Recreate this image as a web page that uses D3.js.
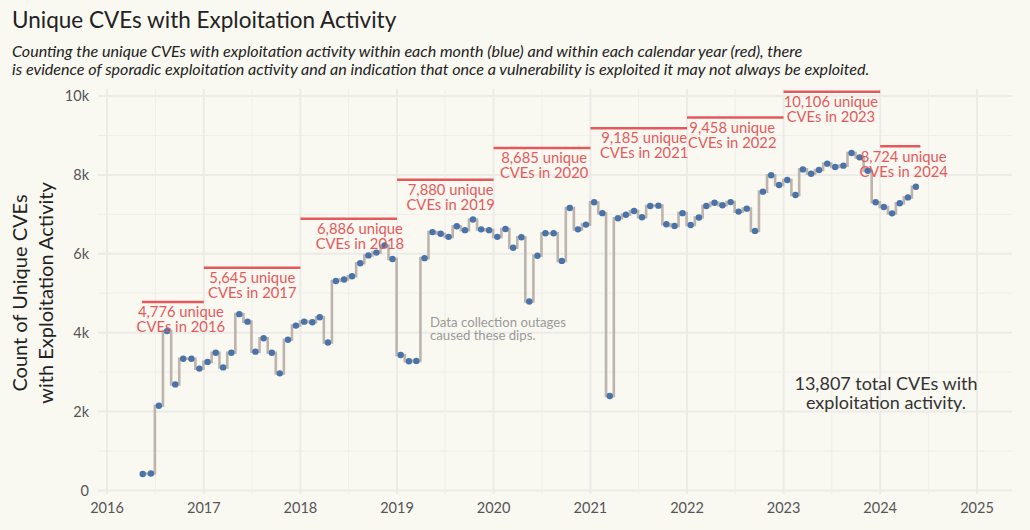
<!DOCTYPE html>
<html>
<head>
<meta charset="utf-8">
<script src="https://cdn.jsdelivr.net/npm/d3@7"></script>
<style>
  html, body { margin: 0; padding: 0; background: #f9f8f1; }
  svg { display: block; }
  text { font-family: Lato, "Open Sans", sans-serif; }
</style>
</head>
<body>
<svg id="chart" width="1030" height="530"></svg>
<script>
// ---------------- data ----------------
const startMonth = "2016-05";           // first monthly observation
const monthlyCounts = [
  420, 430, 2150, 4040, 2690, 3340, 3340, 3090,
  3260, 3490, 3120, 3490, 4470, 4280, 3520, 3860, 3490, 2970, 3820, 4180,
  4280, 4265, 4390, 3750, 5310, 5350, 5430, 5760, 5960, 6030, 6210, 5870,
  3435, 3275, 3285, 5890, 6550, 6510, 6430, 6700, 6600, 6870, 6620, 6600,
  6430, 6630, 6155, 6420, 4790, 5950, 6520, 6520, 5820, 7160, 6620, 6740,
  7305, 7030, 2395, 6900, 6990, 7085, 6925, 7210, 7220, 6750, 6705, 7030,
  6730, 6920, 7210, 7295, 7230, 7310, 7070, 7145, 6580, 7575, 7990, 7745,
  7870, 7490, 8140, 8030, 8125, 8285, 8200, 8235, 8555, 8445, 8105, 7305,
  7185, 7025, 7280, 7430, 7700
];
const years = [2016, 2017, 2018, 2019, 2020, 2021, 2022, 2023, 2024];
const yearlyCounts = [4776, 5645, 6886, 7880, 8685, 9185, 9458, 10106, 8724];
const yearSpanStart = ["2016-05-12", "2017-01-01", "2018-01-01", "2019-01-01", "2020-01-01", "2021-01-01", "2022-01-01", "2023-01-01", "2024-01-01"];
const yearSpanEnd   = ["2017-01-01", "2018-01-01", "2019-01-01", "2020-01-01", "2021-01-01", "2022-01-01", "2023-01-01", "2024-01-01", "2024-06-01"];
const yearLabelAt   = ["2016-10-06", "2017-07-03", "2018-08-14", "2019-07-23", "2020-07-10", "2021-07-23", "2022-06-21", "2023-06-29", "2024-03-30"];
const xTickYears = [2016, 2017, 2018, 2019, 2020, 2021, 2022, 2023, 2024, 2025];
const yTicks = [0, 2000, 4000, 6000, 8000, 10000];
const yTickLabels = ["0", "2k", "4k", "6k", "8k", "10k"];
const totalCount = 13807;

const title = "Unique CVEs with Exploitation Activity";
const subtitle = [
  "Counting the unique CVEs with exploitation activity within each month (blue) and within each calendar year (red), there",
  "is evidence of sporadic exploitation activity and an indication that once a vulnerability is exploited it may not always be exploited."
];
const yTitle = ["Count of Unique CVEs", "with Exploitation Activity"];
const outageNote = ["Data collection outages", "caused these dips."];

// ---------------- layout ----------------
const W = 1030, H = 530;
const panel = { left: 98, right: 1012, top: 89, bottom: 494 };
const parse = d3.timeParse("%Y-%m-%d");
const x = d3.scaleTime()
  .domain([new Date(2016, 0, 1), new Date(2025, 0, 1)])
  .range([107, 977]);
const y = d3.scaleLinear().domain([0, 10000]).range([490.5, 96]);

const svg = d3.select("#chart");
svg.append("rect").attr("width", W).attr("height", H).attr("fill", "#f9f8f1");

const [sy, sm] = startMonth.split("-").map(Number);
const monthly = monthlyCounts.map((v, i) => ({ date: new Date(sy, sm - 1 + i, 15), value: v }));

// ---------------- grid ----------------
const grid = svg.append("g");
const minorY = d3.range(1000, 10000, 2000);
grid.selectAll(".ym").data(minorY).join("line")
  .attr("x1", panel.left).attr("x2", panel.right)
  .attr("y1", d => y(d)).attr("y2", d => y(d))
  .attr("stroke", "#efeeea").attr("stroke-width", 1);
grid.selectAll(".yM").data(yTicks).join("line")
  .attr("x1", panel.left).attr("x2", panel.right)
  .attr("y1", d => y(d)).attr("y2", d => y(d))
  .attr("stroke", "#ecebe8").attr("stroke-width", 2);
const minorX = xTickYears.slice(0, -1).map(yr => new Date(yr, 6, 2));
grid.selectAll(".xm").data(minorX).join("line")
  .attr("x1", d => x(d)).attr("x2", d => x(d))
  .attr("y1", panel.top).attr("y2", panel.bottom)
  .attr("stroke", "#efeeea").attr("stroke-width", 1);
grid.selectAll(".xM").data(xTickYears).join("line")
  .attr("x1", d => x(new Date(d, 0, 1))).attr("x2", d => x(new Date(d, 0, 1)))
  .attr("y1", panel.top).attr("y2", panel.bottom)
  .attr("stroke", "#ecebe8").attr("stroke-width", 2);

// ---------------- axes labels ----------------
svg.append("g").selectAll("text").data(yTicks).join("text")
  .attr("x", 89).attr("y", d => y(d)).attr("dy", "0.36em")
  .attr("text-anchor", "end").attr("font-size", 14.5).attr("fill", "#555")
  .text((d, i) => yTickLabels[i]);
svg.append("g").selectAll("text").data(xTickYears).join("text")
  .attr("x", d => x(new Date(d, 0, 1))).attr("y", 508).attr("dy", "0.36em")
  .attr("text-anchor", "middle").attr("font-size", 14.5).attr("fill", "#555")
  .text(d => d);

const yt = svg.append("text")
  .attr("transform", "translate(33,293) rotate(-90)")
  .attr("text-anchor", "middle").attr("font-size", 20).attr("fill", "#222");
yt.selectAll("tspan").data(yTitle).join("tspan")
  .attr("x", 0).attr("y", (d, i) => (i === 0 ? -13 : 13)).attr("dy", "0.36em")
  .text(d => d);

// ---------------- titles ----------------
svg.append("text").attr("x", 12).attr("y", 20).attr("dy", "0.36em")
  .attr("font-size", 22.5).attr("fill", "#222").text(title);
svg.append("g").selectAll("text").data(subtitle).join("text")
  .attr("x", 12).attr("y", (d, i) => 51 + i * 18).attr("dy", "0.36em")
  .attr("font-size", 16.1).attr("font-style", "italic").attr("fill", "#222")
  .text(d => d);

// ---------------- yearly red segments ----------------
const red = "#e45a5c";
const yearly = years.map((yr, i) => ({
  year: yr, value: yearlyCounts[i],
  x0: parse(yearSpanStart[i]), x1: parse(yearSpanEnd[i]), lx: parse(yearLabelAt[i])
}));
svg.append("g").selectAll("line").data(yearly).join("line")
  .attr("x1", d => x(d.x0)).attr("x2", d => x(d.x1))
  .attr("y1", d => y(d.value)).attr("y2", d => y(d.value))
  .attr("stroke", red).attr("stroke-width", 2.5);

// ---------------- monthly step line + points ----------------
const line = d3.line().x(d => x(d.date)).y(d => y(d.value)).curve(d3.curveStep);
svg.append("path").datum(monthly)
  .attr("d", line).attr("fill", "none")
  .attr("stroke", "#bdb4ad").attr("stroke-width", 2.6);
svg.append("g").selectAll("circle").data(monthly).join("circle")
  .attr("cx", d => x(d.date)).attr("cy", d => y(d.value)).attr("r", 3.2)
  .attr("fill", "#4a74a9");

// ---------------- yearly labels ----------------
const fmt = d3.format(",");
const lg = svg.append("g").selectAll("text").data(yearly).join("text")
  .attr("text-anchor", "middle").attr("font-size", 14.8).attr("fill", red);
lg.append("tspan").attr("x", d => x(d.lx)).attr("y", d => y(d.value) + 10).attr("dy", "0.36em")
  .text(d => `${fmt(d.value)} unique`);
lg.append("tspan").attr("x", d => x(d.lx)).attr("y", d => y(d.value) + 25).attr("dy", "0.36em")
  .text(d => `CVEs in ${d.year}`);

// ---------------- annotations ----------------
svg.append("g").selectAll("text").data(outageNote).join("text")
  .attr("x", 430).attr("y", (d, i) => 322 + i * 13.5).attr("dy", "0.36em")
  .attr("font-size", 13.2).attr("fill", "#9a9a9a").text(d => d);

const totalLines = [`${fmt(totalCount)} total CVEs with`, "exploitation activity."];
svg.append("g").selectAll("text").data(totalLines).join("text")
  .attr("x", 886).attr("y", (d, i) => 384 + i * 19).attr("dy", "0.36em")
  .attr("text-anchor", "middle").attr("font-size", 18).attr("fill", "#333").text(d => d);
</script>
</body>
</html>
